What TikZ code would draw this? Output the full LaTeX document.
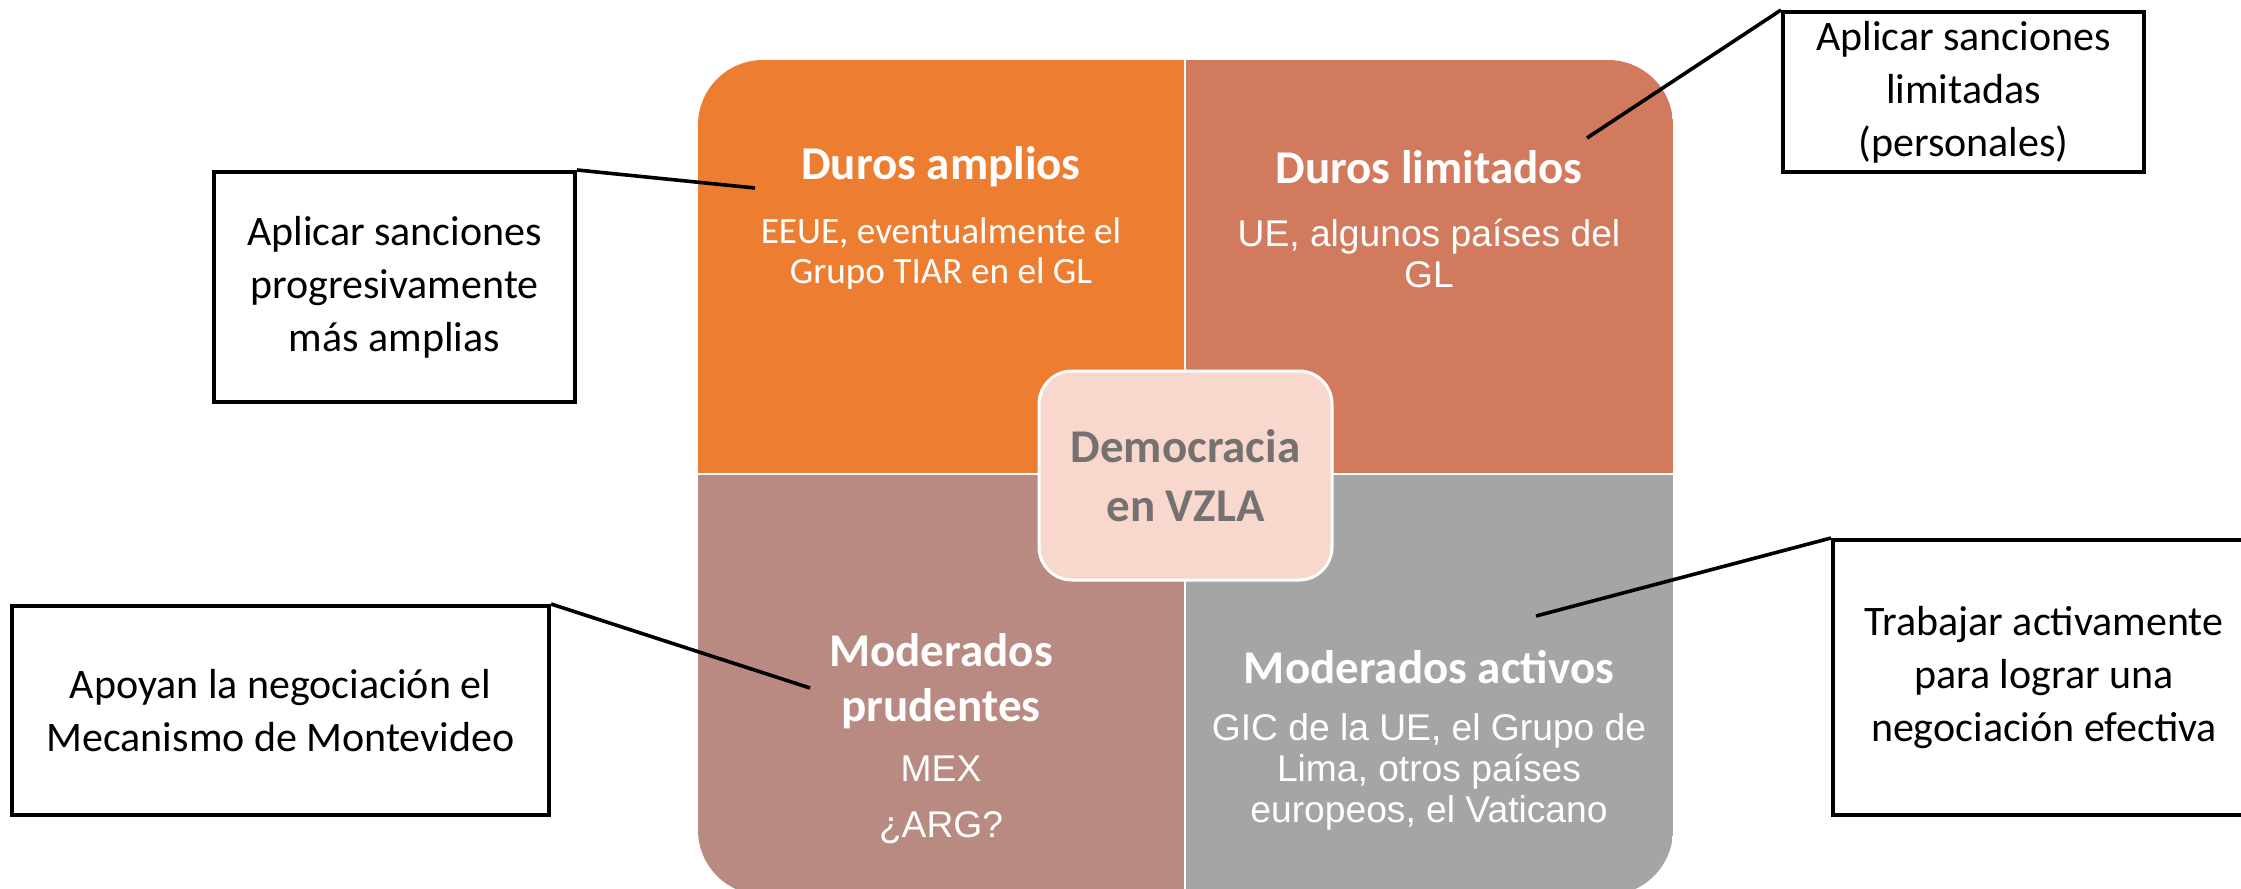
\documentclass[tikz,border=0pt]{standalone}
\usepackage{fontspec}
\setmainfont{Carlito}
\newfontfamily\arialfont{Liberation Sans}
\usetikzlibrary{calc}
\definecolor{naranja}{HTML}{ED7D31}
\definecolor{terracota}{HTML}{D17A5D}
\definecolor{rosaviejo}{HTML}{B98A81}
\definecolor{gris}{HTML}{A5A5A5}
\definecolor{rosapalido}{HTML}{F8D7CC}
\definecolor{grisosc}{HTML}{767171}

\begin{document}
\begin{tikzpicture}[x=0.5pt, y=-0.5pt,
    titulo/.style={text=white, align=center, font=\fontsize{23.5}{27.5}\selectfont\bfseries},
    detalle/.style={text=white, align=center, font=\fontsize{18.6}{20}\selectfont},
    detarial/.style={text=white, align=center, font=\fontsize{18.6}{20.5}\selectfont\arialfont},
    nota/.style={draw=black, line width=2pt, inner sep=0pt, align=center, font=\fontsize{21}{26.5}\selectfont},
    enlace/.style={line width=1.8pt}]
  \useasboundingbox (0,0) rectangle (2241,888);
  % cuadrantes
  \begin{scope}
    \clip[rounded corners=32.5pt] (698,60) rectangle (1673,895);
    \fill[naranja] (698,60) rectangle (1185,474);
    \fill[terracota] (1185,60) rectangle (1673,474);
    \fill[rosaviejo] (698,474) rectangle (1185,895);
    \fill[gris] (1185,474) rectangle (1673,895);
  \end{scope}
  \draw[white, line width=1.3pt] (1185,60) -- (1185,895) (698,474) -- (1673,474);

  \node[titulo] (tda) at (941,167) {Duros amplios};
  \node[detalle] (dda) at (941,254) {EEUE, eventualmente el\\Grupo TIAR en el GL};
  \node[titulo] (tdl) at (1429,167) {Duros limitados};
  \node[detarial] (ddl) at (1429,253) {UE, algunos países del\\GL};
  \node[titulo] (tmp) at (941,681) {Moderados\\prudentes};
  \node[detarial] (dmp) at (941,800) {MEX\\[7.5pt]¿ARG?};
  \node[titulo] (tma) at (1429,667) {Moderados activos};
  \node[detarial] (dma) at (1429,772) {GIC de la UE, el Grupo de\\Lima, otros países\\europeos, el Vaticano};

  % centro
  \node[fill=rosapalido, draw=white, line width=1.5pt, rounded corners=16.5pt,
        minimum width=146.5pt, minimum height=104.5pt, text=grisosc, align=center,
        font=\fontsize{23.5}{29.5}\selectfont\bfseries] (dem) at (1185.5,475.5) {Democracia\\en VZLA};

  % notas
  \node[nota, minimum width=180.5pt, minimum height=115pt] (sancamp) at (394.5,287)
    {Aplicar sanciones\\progresivamente\\más amplias};
  \node[nota, minimum width=268.5pt, minimum height=104.5pt] (negmont) at (280.5,710.5)
    {Apoyan la negociación el\\Mecanismo de Montevideo};
  \node[nota, minimum width=180.5pt, minimum height=80pt] (sanclim) at (1963.5,92)
    {Aplicar sanciones\\limitadas\\(personales)};
  \node[nota, minimum width=211pt, minimum height=137.5pt] (trabact) at (2044,677.5)
    {Trabajar activamente\\para lograr una\\negociación efectiva};

  \coordinate (pda) at (755,188);
  \coordinate (pmp) at (810,688);
  \coordinate (pdl) at (1587,138);
  \coordinate (pma) at (1536,616);
  \draw[enlace] (sancamp.north east) -- (pda);
  \draw[enlace] (negmont.north east) -- (pmp);
  \draw[enlace] (sanclim.north west) -- (pdl);
  \draw[enlace] (trabact.north west) -- (pma);
\end{tikzpicture}
\end{document}
